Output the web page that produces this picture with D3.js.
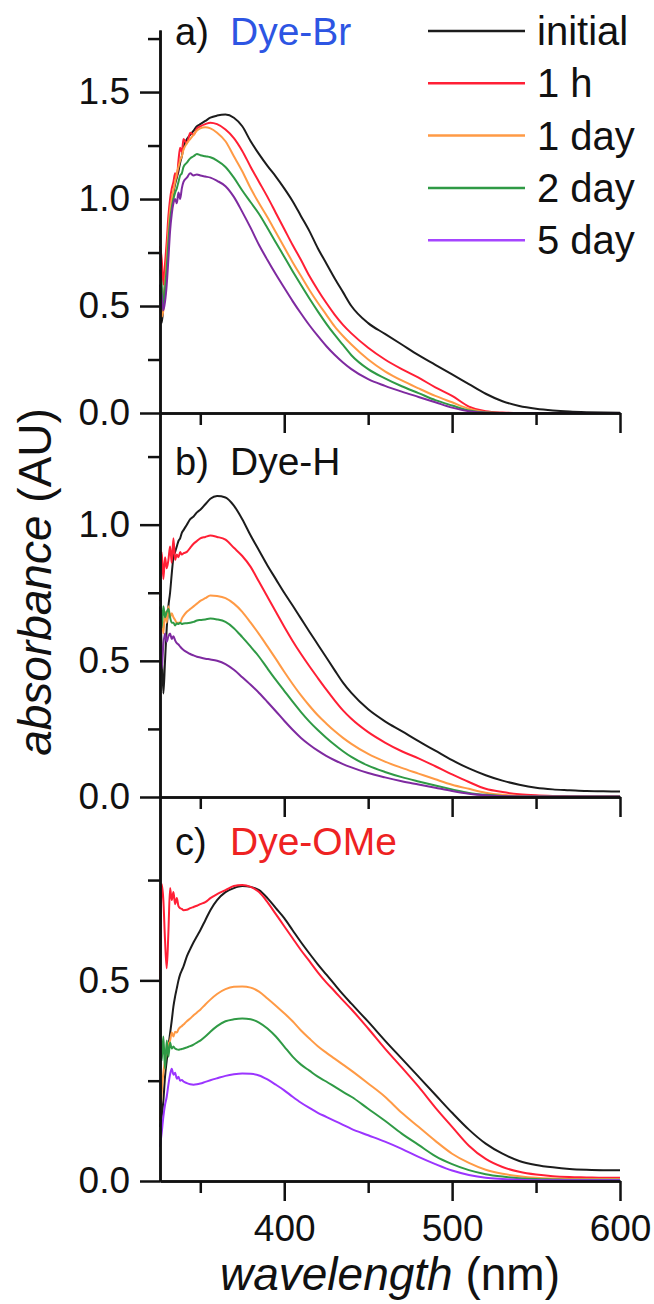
<!DOCTYPE html>
<html lang="en">
  <head>
    <meta charset="UTF-8" />
    <title>absorbance</title>
    <script src="https://cdn.jsdelivr.net/npm/d3@7"></script>
    <style>
      body {
        margin: 0;
        background: #fff;
      }
      text {
        font-family: "Liberation Sans", Arial, sans-serif;
      }
    </style>
  </head>
  <body>
    <script>
      const wavelengths = [
        326, 327, 328, 329, 330, 331, 332, 333, 334, 335, 336, 337, 338, 339, 340,
        342, 344, 346, 348, 350, 353, 356, 360, 365, 370, 375, 380, 385, 390, 395,
        400, 405, 410, 415, 420, 425, 430, 435, 440, 450, 460, 470, 480, 490, 500,
        510, 520, 530, 540, 550, 560, 570, 580, 590, 600,
      ];
      const seriesNames = ["initial", "1 h", "1 day", "2 day", "5 day"];

      // a) Dye-Br
      const brInitial = [
        0.6, 0.42, 0.5, 0.62, 0.75, 0.85, 0.95, 1.0, 1.03, 1.07, 1.1, 1.13, 1.17, 1.2, 1.24,
        1.28, 1.3, 1.32, 1.34, 1.35, 1.365, 1.38, 1.39, 1.395, 1.38, 1.34, 1.27, 1.21, 1.155, 1.105,
        1.05, 0.99, 0.92, 0.85, 0.77, 0.7, 0.63, 0.565, 0.5, 0.42, 0.37, 0.32, 0.27, 0.225, 0.18,
        0.135, 0.09, 0.055, 0.033, 0.02, 0.012, 0.007, 0.004, 0.002, 0.001,
      ];
      const br1h = [
        0.78, 0.72, 0.6, 0.7, 0.8, 0.92, 1.0, 1.05, 1.08, 1.12, 1.1, 1.18, 1.24, 1.22, 1.28,
        1.26, 1.31, 1.3, 1.33, 1.34, 1.35, 1.357, 1.35, 1.325, 1.285, 1.225, 1.15, 1.08, 1.01, 0.935,
        0.86, 0.785, 0.715, 0.64, 0.575, 0.515, 0.46, 0.412, 0.372, 0.305, 0.25, 0.205, 0.165, 0.12, 0.08,
        0.03, 0.008, 0.002, 0, 0, 0, 0, 0, 0, 0,
      ];
      const br1day = [
        0.5, 0.45, 0.48, 0.6, 0.72, 0.85, 0.95, 1.0, 1.04, 1.08, 1.12, 1.15, 1.18, 1.2, 1.23,
        1.26, 1.28, 1.3, 1.32, 1.33, 1.335, 1.33, 1.31, 1.27, 1.2, 1.13, 1.05, 0.98, 0.915, 0.845,
        0.775, 0.705, 0.64, 0.575, 0.515, 0.46, 0.405, 0.36, 0.32, 0.25, 0.195, 0.152, 0.115, 0.08, 0.05,
        0.02, 0.004, 0, 0, 0, 0, 0, 0, 0, 0,
      ];
      const br2day = [
        0.67, 0.6, 0.5, 0.58, 0.68, 0.8, 0.9, 0.96, 1.0, 1.03, 1.05, 1.08, 1.11, 1.12, 1.15,
        1.17, 1.19, 1.2, 1.21, 1.205, 1.2, 1.195, 1.18, 1.15, 1.1, 1.04, 0.985, 0.93, 0.865, 0.797,
        0.73, 0.663, 0.598, 0.535, 0.475, 0.418, 0.366, 0.318, 0.27, 0.205, 0.162, 0.125, 0.093, 0.06, 0.035,
        0.012, 0.002, 0, 0, 0, 0, 0, 0, 0, 0,
      ];
      const br5day = [
        0.59, 0.55, 0.48, 0.52, 0.6, 0.72, 0.85, 0.93, 0.98, 1.0, 0.98, 1.03, 1.0, 1.05, 1.08,
        1.1, 1.12, 1.11, 1.115, 1.11, 1.105, 1.1, 1.085, 1.06, 1.01, 0.94, 0.865, 0.785, 0.715, 0.648,
        0.585, 0.523, 0.465, 0.41, 0.36, 0.313, 0.272, 0.236, 0.205, 0.158, 0.127, 0.1, 0.075, 0.05, 0.025,
        0.008, 0.001, 0, 0, 0, 0, 0, 0, 0, 0,
      ];

      // b) Dye-H
      const hInitial = [
        0.7, 0.55, 0.38, 0.5, 0.62, 0.7, 0.75, 0.82, 0.88, 0.9, 0.92, 0.94, 0.95, 0.97, 0.98,
        1.0, 1.02, 1.03, 1.045, 1.055, 1.075, 1.095, 1.105, 1.1, 1.07, 1.02, 0.96, 0.905, 0.85, 0.8,
        0.75, 0.703, 0.655, 0.607, 0.56, 0.513, 0.466, 0.42, 0.382, 0.322, 0.278, 0.242, 0.205, 0.17, 0.135,
        0.105, 0.08, 0.06, 0.045, 0.034, 0.028, 0.025, 0.022, 0.021, 0.02,
      ];
      const h1h = [
        0.72, 0.9, 0.8, 0.88, 0.84, 0.87, 0.92, 0.86, 0.95, 0.87, 0.89, 0.88, 0.9, 0.89, 0.895,
        0.9, 0.915, 0.93, 0.94, 0.95, 0.955, 0.96, 0.955, 0.945, 0.915, 0.885, 0.845, 0.79, 0.735, 0.68,
        0.625, 0.573, 0.525, 0.48, 0.437, 0.395, 0.355, 0.318, 0.287, 0.238, 0.2, 0.168, 0.142, 0.113, 0.083,
        0.055, 0.03, 0.018, 0.01, 0.006, 0.004, 0.003, 0.002, 0.002, 0.002,
      ];
      const h1day = [
        0.62, 0.66, 0.6, 0.68, 0.64, 0.7, 0.66, 0.675, 0.66, 0.65, 0.64, 0.64, 0.64, 0.655, 0.665,
        0.68, 0.69, 0.7, 0.71, 0.72, 0.73, 0.74, 0.738, 0.73, 0.71, 0.68, 0.64, 0.598, 0.553, 0.507,
        0.46, 0.415, 0.373, 0.335, 0.3, 0.27, 0.242, 0.217, 0.195, 0.158, 0.13, 0.107, 0.086, 0.065, 0.045,
        0.03, 0.016, 0.008, 0.004, 0.002, 0.002, 0.002, 0.002, 0.002, 0.002,
      ];
      const h2day = [
        0.9, 0.62, 0.7, 0.66, 0.68, 0.69, 0.66, 0.64, 0.64, 0.63, 0.638, 0.635, 0.64, 0.635, 0.637,
        0.638, 0.64, 0.643, 0.648, 0.65, 0.652, 0.655, 0.652, 0.643, 0.62, 0.587, 0.552, 0.515, 0.472, 0.43,
        0.39, 0.35, 0.312, 0.277, 0.246, 0.218, 0.192, 0.168, 0.147, 0.115, 0.092, 0.073, 0.057, 0.042, 0.028,
        0.015, 0.008, 0.004, 0.002, 0.002, 0.002, 0.002, 0.002, 0.002, 0.002,
      ];
      const h5day = [
        0.69, 0.47, 0.56, 0.6, 0.57, 0.59, 0.6, 0.58, 0.59, 0.575, 0.565, 0.56, 0.552, 0.545, 0.54,
        0.532, 0.525, 0.52, 0.515, 0.512, 0.508, 0.505, 0.5, 0.488, 0.467, 0.44, 0.412, 0.382, 0.349, 0.315,
        0.28, 0.247, 0.217, 0.192, 0.17, 0.151, 0.135, 0.121, 0.109, 0.088, 0.072, 0.058, 0.046, 0.034, 0.022,
        0.012, 0.006, 0.003, 0.002, 0.002, 0.002, 0.002, 0.002, 0.002, 0.002,
      ];

      // c) Dye-OMe
      const omeInitial = [
        0.135, 0.16, 0.2, 0.26, 0.3, 0.335, 0.368, 0.4, 0.435, 0.46, 0.48, 0.5, 0.515, 0.525, 0.535,
        0.56, 0.578, 0.595, 0.61, 0.625, 0.65, 0.675, 0.7, 0.72, 0.73, 0.735, 0.733, 0.725, 0.705, 0.68,
        0.655, 0.625, 0.595, 0.567, 0.54, 0.515, 0.49, 0.465, 0.442, 0.397, 0.35, 0.305, 0.26, 0.215, 0.17,
        0.128, 0.093, 0.068, 0.05, 0.04, 0.034, 0.03, 0.028, 0.027, 0.027,
      ];
      const ome1h = [
        0.5, 0.74, 0.7, 0.6, 0.53, 0.62, 0.73, 0.7, 0.72, 0.69, 0.705, 0.685, 0.68, 0.678, 0.675,
        0.676, 0.68, 0.683, 0.686, 0.69, 0.695, 0.705, 0.715, 0.725, 0.735, 0.738, 0.733, 0.72, 0.695, 0.665,
        0.635, 0.605, 0.575, 0.548, 0.52, 0.495, 0.473, 0.45, 0.428, 0.38, 0.33, 0.283, 0.235, 0.183, 0.135,
        0.088, 0.055, 0.035, 0.023, 0.016, 0.012, 0.01, 0.009, 0.008, 0.008,
      ];
      const ome1day = [
        0.15, 0.22, 0.27, 0.3, 0.32, 0.34, 0.35, 0.37, 0.36, 0.372, 0.37, 0.378, 0.383, 0.386, 0.39,
        0.398, 0.405, 0.413, 0.42, 0.427, 0.44, 0.452, 0.466, 0.478, 0.484, 0.485, 0.482, 0.472, 0.455, 0.437,
        0.418, 0.398, 0.375, 0.355, 0.336, 0.32, 0.305, 0.29, 0.275, 0.243, 0.21, 0.17, 0.135, 0.1, 0.068,
        0.045, 0.028, 0.018, 0.012, 0.008, 0.006, 0.005, 0.005, 0.005, 0.005,
      ];
      const ome2day = [
        0.4, 0.3, 0.36, 0.28, 0.35, 0.31, 0.345, 0.33, 0.335, 0.33, 0.328, 0.327, 0.328, 0.329, 0.33,
        0.333, 0.336, 0.34, 0.345, 0.35, 0.36, 0.372, 0.386, 0.398, 0.403, 0.405, 0.403, 0.395, 0.38, 0.36,
        0.335, 0.31, 0.29, 0.275, 0.26, 0.248, 0.235, 0.222, 0.21, 0.18, 0.15, 0.118, 0.09, 0.062, 0.042,
        0.027, 0.017, 0.011, 0.007, 0.005, 0.004, 0.003, 0.003, 0.003, 0.003,
      ];
      const ome5day = [
        0.085, 0.12, 0.16, 0.19, 0.21, 0.24, 0.265, 0.28, 0.265, 0.27, 0.255, 0.26, 0.25, 0.252, 0.248,
        0.244, 0.241, 0.24, 0.241, 0.243, 0.247, 0.251, 0.256, 0.262, 0.266, 0.268, 0.267, 0.263, 0.253, 0.24,
        0.226, 0.21, 0.195, 0.182, 0.17, 0.16, 0.15, 0.14, 0.13, 0.114, 0.098, 0.08, 0.06, 0.042, 0.026,
        0.015, 0.008, 0.005, 0.003, 0.002, 0.002, 0.002, 0.002, 0.002, 0.002,
      ];

      const width = 654;
      const height = 1304;
      const fontSans = '"Liberation Sans", Arial, sans-serif';

      const legendColors = ["#1c1c1c", "#ff1f35", "#ff9a45", "#2f9a45", "#a545ff"];

      const panels = [
        {
          tag: "a)",
          name: "Dye-Br",
          nameColor: "#2d55e3",
          yMax: 1.79,
          top: 30,
          bottom: 413,
          major: [0, 0.5, 1.0, 1.5],
          minor: [0.25, 0.75, 1.25, 1.75],
          series: [brInitial, br1h, br1day, br2day, br5day],
          colors: ["#1c1c1c", "#ff1f35", "#ff9a45", "#2f9a45", "#7e2aa0"],
          labelY: 45,
        },
        {
          tag: "b)",
          name: "Dye-H",
          nameColor: "#111",
          yMax: 1.41,
          top: 413,
          bottom: 797,
          major: [0, 0.5, 1.0],
          minor: [0.25, 0.75, 1.25],
          series: [hInitial, h1h, h1day, h2day, h5day],
          colors: ["#1c1c1c", "#ff1f35", "#ff9a45", "#2f9a45", "#7e2aa0"],
          labelY: 475,
        },
        {
          tag: "c)",
          name: "Dye-OMe",
          nameColor: "#ee2222",
          yMax: 0.957,
          top: 797,
          bottom: 1181,
          major: [0, 0.5],
          minor: [0.25, 0.75],
          series: [omeInitial, ome1h, ome1day, ome2day, ome5day],
          colors: ["#1c1c1c", "#ff1f35", "#ff9a45", "#2f9a45", "#9b35ff"],
          labelY: 855,
        },
      ];

      const svg = d3
        .select("body")
        .append("svg")
        .attr("width", width)
        .attr("height", height);

      const x = d3.scaleLinear().domain([326, 600]).range([160, 620]);

      const styleAxis = (g, size) => {
        g.attr("font-family", fontSans)
          .attr("font-size", size)
          .attr("color", "#111");
        g.selectAll("path, line").attr("stroke-width", 2.5);
      };

      panels.forEach((p, pi) => {
        const y = d3.scaleLinear().domain([0, p.yMax]).range([p.bottom, p.top]);
        const isLast = pi === panels.length - 1;

        // curves
        const line = d3
          .line()
          .x((d) => x(d[0]))
          .y((d) => y(d[1]))
          .curve(d3.curveMonotoneX);

        p.series.forEach((vals, i) => {
          svg
            .append("path")
            .datum(wavelengths.map((w, k) => [w, vals[k]]))
            .attr("fill", "none")
            .attr("stroke", p.colors[i])
            .attr("stroke-width", 2)
            .attr("stroke-linejoin", "round")
            .attr("d", line);
        });

        // y axis, minor first then major
        svg
          .append("g")
          .attr("transform", "translate(160,0)")
          .call(d3.axisLeft(y).tickValues(p.minor).tickSize(12).tickSizeOuter(0).tickFormat(""))
          .call((g) => styleAxis(g, 37));
        svg
          .append("g")
          .attr("transform", "translate(160,0)")
          .call(
            d3
              .axisLeft(y)
              .tickValues(p.major)
              .tickSize(20)
              .tickSizeOuter(0)
              .tickPadding(10)
              .tickFormat(d3.format(".1f"))
          )
          .call((g) => styleAxis(g, 37));

        // x axis at the bottom of each panel
        svg
          .append("g")
          .attr("transform", `translate(0,${p.bottom})`)
          .call(d3.axisBottom(x).tickValues([350, 450, 550]).tickSize(12).tickSizeOuter(0).tickFormat(""))
          .call((g) => styleAxis(g, 37));
        svg
          .append("g")
          .attr("transform", `translate(0,${p.bottom})`)
          .call(
            d3
              .axisBottom(x)
              .tickValues([400, 500, 600])
              .tickSize(20)
              .tickSizeOuter(0)
              .tickPadding(14)
              .tickFormat(isLast ? d3.format("d") : "")
          )
          .call((g) => styleAxis(g, 37));

        // panel label
        svg
          .append("text")
          .attr("x", 175)
          .attr("y", p.labelY)
          .attr("font-size", 38)
          .attr("fill", "#111")
          .text(p.tag);
        svg
          .append("text")
          .attr("x", 230)
          .attr("y", p.labelY)
          .attr("font-size", 39)
          .attr("fill", p.nameColor)
          .text(p.name);
      });

      // legend
      const legend = svg
        .append("g")
        .selectAll("g")
        .data(seriesNames)
        .join("g")
        .attr("transform", (d, i) => `translate(0,${31 + i * 52.3})`);
      legend
        .append("line")
        .attr("x1", 428)
        .attr("x2", 525)
        .attr("stroke", (d, i) => legendColors[i])
        .attr("stroke-width", 2.5);
      legend
        .append("text")
        .attr("x", 537)
        .attr("dy", "0.35em")
        .attr("font-size", 40)
        .attr("fill", "#111")
        .text((d) => d);

      // axis titles
      const xTitle = svg
        .append("text")
        .attr("x", 390)
        .attr("y", 1290)
        .attr("text-anchor", "middle")
        .attr("font-size", 46)
        .attr("fill", "#111");
      xTitle.append("tspan").attr("font-style", "italic").text("wavelength");
      xTitle.append("tspan").text(" (nm)");

      const yTitle = svg
        .append("text")
        .attr("transform", "translate(51,582) rotate(-90)")
        .attr("text-anchor", "middle")
        .attr("font-size", 46)
        .attr("fill", "#111");
      yTitle.append("tspan").attr("font-style", "italic").text("absorbance");
      yTitle.append("tspan").text(" (AU)");
    </script>
  </body>
</html>
